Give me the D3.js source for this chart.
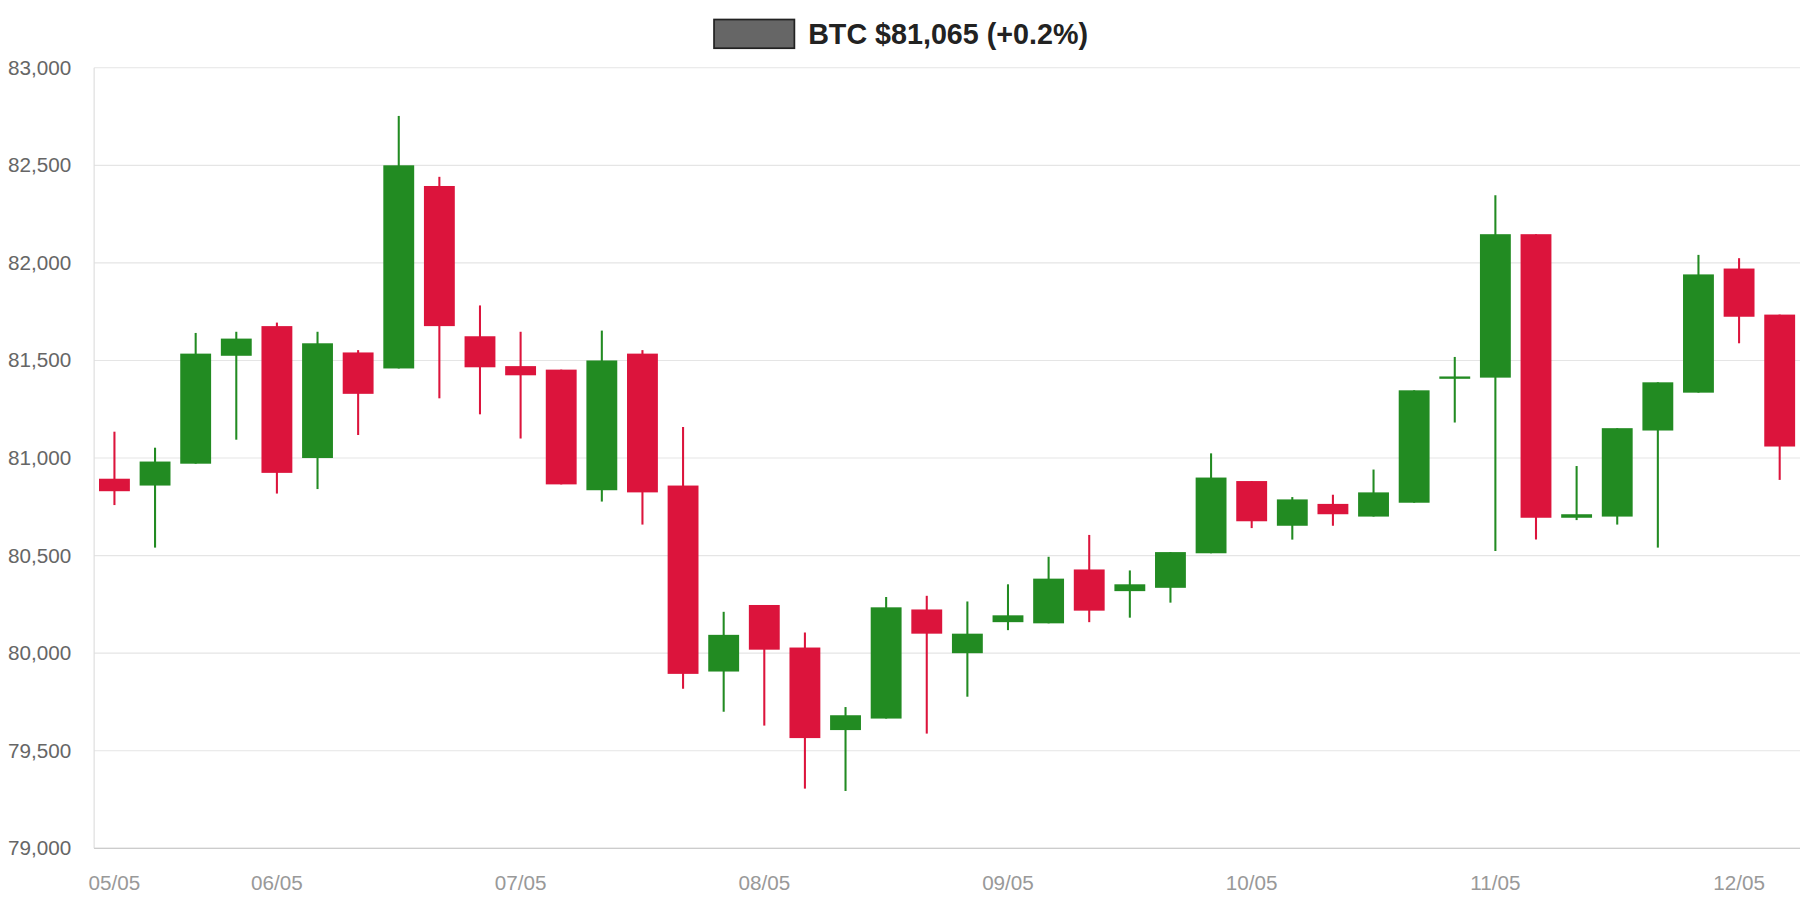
<!DOCTYPE html><html><head><meta charset="utf-8">
<script src="https://cdn.jsdelivr.net/npm/d3@7"></script>
<style>body{margin:0;background:#fff;overflow:hidden}svg{font-family:"Liberation Sans",Arial,sans-serif;display:block}</style></head><body>
<svg id="c" width="1800" height="900" viewBox="0 0 1568 784"></svg>
<script>
const opens =[80894,80859,80971,81524,81676,81000,81541,81459,82394,81624,81471,81453,80835,81535,80859,79906,80247,80029,79606,79665,80224,80000,80159,80153,80429,80318,80335,80512,80882,80653,80765,80700,80771,81406,81412,82147,80694,80700,81141,81335,81971,81735];
const closes=[80830,80982,81535,81612,80924,81588,81329,82500,81676,81465,81424,80865,81500,80824,79894,80094,80018,79565,79682,80235,80100,80100,80194,80382,80218,80353,80518,80900,80676,80788,80712,80824,81347,81418,82147,80694,80712,81153,81388,81941,81724,81059];
const highs =[81135,81053,81641,81647,81694,81647,81553,82753,82441,81782,81647,81453,81653,81553,81159,80212,80247,80106,79724,80288,80294,80265,80353,80494,80606,80424,80518,81024,80882,80800,80812,80941,81347,81518,82347,82147,80959,81153,81388,82041,82024,81735];
const lows  =[80759,80541,80971,81094,80818,80841,81118,81459,81306,81224,81100,80865,80777,80659,79818,79700,79629,79306,79294,79665,79588,79777,80118,80153,80159,80182,80259,80512,80641,80582,80653,80700,80771,81182,80524,80582,80682,80659,80541,81335,81588,80888];
const categories = opens.map((d,i)=>i);
const tickLabels = {0:"05/05",4:"06/05",10:"07/05",16:"08/05",22:"09/05",28:"10/05",34:"11/05",40:"12/05"};
const yTicks=[79000,79500,80000,80500,81000,81500,82000,82500,83000];
const svg=d3.select("#c");
const L=82,R=1568,T=59,B=739;
const x=d3.scaleBand().domain(categories).range([L,R]).paddingInner(0.24).paddingOuter(0.12);
const y=d3.scaleLinear().domain([79000,83000]).range([B,T]);
svg.append("g").selectAll("line").data(yTicks).join("line")
 .attr("x1",L).attr("x2",1568).attr("y1",d=>y(d)).attr("y2",d=>y(d)).attr("stroke","#e5e5e5");
svg.append("line").attr("x1",L).attr("x2",L).attr("y1",T).attr("y2",B).attr("stroke","#ddd");
svg.append("line").attr("x1",L).attr("x2",1568).attr("y1",B).attr("y2",B).attr("stroke","#ccc");
svg.append("g").selectAll("text").data(yTicks).join("text")
 .attr("x",62).attr("y",d=>y(d)+6).attr("text-anchor","end").attr("font-size",18).attr("fill","#666")
 .text(d=>d3.format(",")(d));
svg.append("g").selectAll("text").data(Object.keys(tickLabels)).join("text")
 .attr("x",d=>x(+d)+x.bandwidth()/2).attr("y",775).attr("text-anchor","middle").attr("font-size",18).attr("fill","#999")
 .text(d=>tickLabels[d]);
const col=i=>closes[i]>=opens[i]?"#228b22":"#dc143c";
const g=svg.append("g");
g.selectAll("line").data(categories).join("line")
 .attr("x1",i=>x(i)+x.bandwidth()/2).attr("x2",i=>x(i)+x.bandwidth()/2)
 .attr("y1",i=>y(highs[i])).attr("y2",i=>y(lows[i])).attr("stroke",col).attr("stroke-width",1.8);
g.selectAll("rect").data(categories).join("rect")
 .attr("x",i=>x(i)).attr("width",x.bandwidth())
 .attr("y",i=>y(Math.max(opens[i],closes[i])))
 .attr("height",i=>Math.max(2,Math.abs(y(opens[i])-y(closes[i])))).attr("fill",col);
svg.append("rect").attr("x",622).attr("y",17).attr("width",70).attr("height",25).attr("fill","#666").attr("stroke","#222").attr("stroke-width",1.5);
svg.append("text").attr("x",704).attr("y",38).attr("font-size",25).attr("font-weight","bold").attr("fill","#222").text("BTC $81,065 (+0.2%)");
</script></body></html>
